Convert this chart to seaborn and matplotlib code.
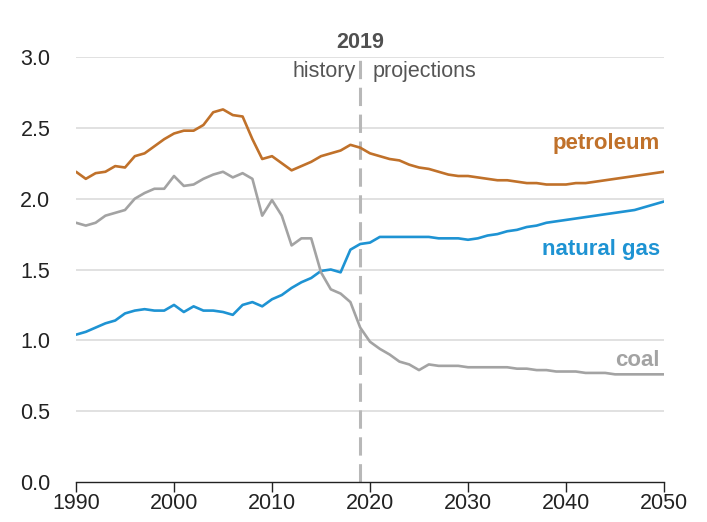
import pandas as pd
import seaborn as sns
import matplotlib.pyplot as plt

# Dados (1990-2050)
anos = list(range(1990, 2051))

petroleo = [2.19, 2.14, 2.18, 2.19, 2.23, 2.22, 2.30, 2.32, 2.37, 2.42,
            2.46, 2.48, 2.48, 2.52, 2.61, 2.63, 2.59, 2.58, 2.42, 2.28,
            2.30, 2.25, 2.20, 2.23, 2.26, 2.30, 2.32, 2.34, 2.38, 2.36,
            2.32, 2.30, 2.28, 2.27, 2.24, 2.22, 2.21, 2.19, 2.17, 2.16,
            2.16, 2.15, 2.14, 2.13, 2.13, 2.12, 2.11, 2.11, 2.10, 2.10,
            2.10, 2.11, 2.11, 2.12, 2.13, 2.14, 2.15, 2.16, 2.17, 2.18,
            2.19]

gas_natural = [1.04, 1.06, 1.09, 1.12, 1.14, 1.19, 1.21, 1.22, 1.21, 1.21,
               1.25, 1.20, 1.24, 1.21, 1.21, 1.20, 1.18, 1.25, 1.27, 1.24,
               1.29, 1.32, 1.37, 1.41, 1.44, 1.49, 1.50, 1.48, 1.64, 1.68,
               1.69, 1.73, 1.73, 1.73, 1.73, 1.73, 1.73, 1.72, 1.72, 1.72,
               1.71, 1.72, 1.74, 1.75, 1.77, 1.78, 1.80, 1.81, 1.83, 1.84,
               1.85, 1.86, 1.87, 1.88, 1.89, 1.90, 1.91, 1.92, 1.94, 1.96,
               1.98]

carvao = [1.83, 1.81, 1.83, 1.88, 1.90, 1.92, 2.00, 2.04, 2.07, 2.07,
          2.16, 2.09, 2.10, 2.14, 2.17, 2.19, 2.15, 2.18, 2.14, 1.88,
          1.99, 1.88, 1.67, 1.72, 1.72, 1.48, 1.36, 1.33, 1.27, 1.09,
          0.99, 0.94, 0.90, 0.85, 0.83, 0.79, 0.83, 0.82, 0.82, 0.82,
          0.81, 0.81, 0.81, 0.81, 0.81, 0.80, 0.80, 0.79, 0.79, 0.78,
          0.78, 0.78, 0.77, 0.77, 0.77, 0.76, 0.76, 0.76, 0.76, 0.76,
          0.76]

series = ["petroleum", "natural gas", "coal"]
cores = {"petroleum": "#c0712a", "natural gas": "#1e93d3", "coal": "#a3a3a3"}

# Montando o dataframe no formato longo
df = pd.concat([
    pd.DataFrame({"ano": anos, "valor": petroleo, "fonte": "petroleum"}),
    pd.DataFrame({"ano": anos, "valor": gas_natural, "fonte": "natural gas"}),
    pd.DataFrame({"ano": anos, "valor": carvao, "fonte": "coal"}),
], ignore_index=True)

sns.set_style("white")
plt.rcParams["font.family"] = ["Liberation Sans", "DejaVu Sans"]

fig = plt.figure(figsize=(7.07, 5.22), dpi=100)
ax = fig.add_axes([0.1075, 0.0766, 0.8317, 0.8142])

# Grade horizontal
for y in [0.5, 1.0, 1.5, 2.0, 2.5, 3.0]:
    ax.axhline(y, color="#dcdcdc", lw=1.2, zorder=0)

# Linha tracejada em 2019
ax.plot([2019, 2019], [0, 3.0], color="#b8b8b8", lw=2.2,
        dashes=(6, 2.8), zorder=1)

sns.lineplot(data=df, x="ano", y="valor", hue="fonte", hue_order=series,
             palette=cores, linewidth=1.9, legend=False, ax=ax, zorder=3)

ax.set_xlim(1990, 2050)
ax.set_ylim(0, 3.0)
ax.set_xticks(range(1990, 2051, 10))
ax.set_yticks([0.0, 0.5, 1.0, 1.5, 2.0, 2.5, 3.0])
ax.set_yticklabels(["0.0", "0.5", "1.0", "1.5", "2.0", "2.5", "3.0"])
ax.set_xlabel("")
ax.set_ylabel("")

for lado in ["top", "right", "left"]:
    ax.spines[lado].set_visible(False)
ax.spines["bottom"].set_color("#222222")
ax.spines["bottom"].set_linewidth(1.0)
ax.spines["bottom"].set_zorder(4)

ax.tick_params(axis="x", bottom=True, length=7, width=1.0, color="#222222",
               labelsize=15.5, labelcolor="#222222", pad=1)
ax.tick_params(axis="y", left=False, labelsize=15.5, labelcolor="#222222", pad=15)

# Rótulos das séries
ax.text(2049.6, 2.39, "petroleum", color=cores["petroleum"], fontsize=16,
        fontweight="bold", ha="right", va="center")
ax.text(2049.6, 1.64, "natural gas", color=cores["natural gas"], fontsize=16,
        fontweight="bold", ha="right", va="center")
ax.text(2049.6, 0.86, "coal", color=cores["coal"], fontsize=16,
        fontweight="bold", ha="right", va="center")

# Anotações do ano de corte
ax.text(2019, 3.1, "2019", color="#505050", fontsize=15.5, fontweight="bold",
        ha="center", va="center", clip_on=False)
ax.text(2018.5, 2.9, "history", color="#555555", fontsize=15.5,
        ha="right", va="center")
ax.text(2020.3, 2.9, "projections", color="#555555", fontsize=15.5,
        ha="left", va="center")

fig.savefig("out.png", dpi=100)
